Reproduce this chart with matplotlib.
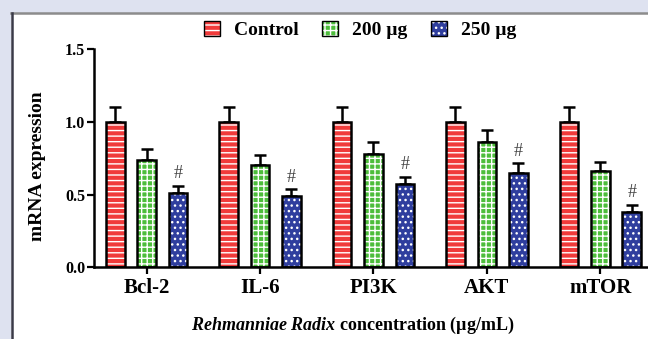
import matplotlib.pyplot as plt
import numpy as np
from matplotlib.patches import Patch, Rectangle
from matplotlib.lines import Line2D
from matplotlib.legend_handler import HandlerTuple

# data
genes = ['Bcl-2', 'IL-6', 'PI3K', 'AKT', 'mTOR']
groups = ['Control', '200 µg', '250 µg']
control_mean = [1.00, 1.00, 1.00, 1.00, 1.00]
control_err = [0.10, 0.10, 0.10, 0.10, 0.10]
dose200_mean = [0.74, 0.70, 0.78, 0.86, 0.66]
dose200_err = [0.07, 0.07, 0.08, 0.08, 0.065]
dose250_mean = [0.51, 0.49, 0.57, 0.65, 0.38]
dose250_err = [0.05, 0.045, 0.05, 0.065, 0.05]
significant = ['#', '#', '#', '#', '#']

colors = ['#f03a3a', '#4dbd3b', '#2f3e9e']
hatches = ['---', '+++', '...']

plt.rcParams['font.family'] = ['Liberation Serif', 'DejaVu Serif']
plt.rcParams['font.weight'] = 'bold'
plt.rcParams['mathtext.fontset'] = 'custom'
plt.rcParams['mathtext.it'] = 'Liberation Serif:italic:bold'
plt.rcParams['mathtext.rm'] = 'Liberation Serif:bold'
plt.rcParams['hatch.linewidth'] = 1.0

fig = plt.figure(figsize=(6.48, 3.39), dpi=100, facecolor='#dee2f0')

# white panel with grey top border and dark left border
W, H = 648.0, 339.0
fig.add_artist(Rectangle((11 / W, 0), 1, 1 - 13 / H, transform=fig.transFigure,
                         facecolor='white', edgecolor='none', zorder=0))
fig.add_artist(Line2D([11 / W, 1], [1 - 13 / H] * 2, transform=fig.transFigure,
                      color='#8c8c8c', lw=1.8))
fig.add_artist(Line2D([11.5 / W] * 2, [0, 1 - 13 / H], transform=fig.transFigure,
                      color='#3a3a48', lw=1.8))

ax = fig.add_axes([93.5 / W, 1 - 267.3 / H, (W - 93.5) / W, (267.3 - 49) / H])
ax.set_facecolor('none')

x = np.arange(len(genes))
width = 0.165
offsets = [-0.277, 0.0, 0.277]
means = [control_mean, dose200_mean, dose250_mean]
errs = [control_err, dose200_err, dose250_err]

for i in range(3):
    pos = x + offsets[i]
    # hatched fill (white pattern) then black outline on top
    ax.bar(pos, means[i], width, color=colors[i], edgecolor='white', hatch=hatches[i],
           linewidth=0, zorder=2)
    ax.bar(pos, means[i], width, fill=False, edgecolor='black', linewidth=1.8, zorder=3)
    ax.errorbar(pos, means[i], yerr=[np.zeros(len(genes)), errs[i]], fmt='none',
                ecolor='black', elinewidth=1.8, capsize=4, capthick=1.8, zorder=1)

# significance marks over the 250 µg bars
for xi, m, e, s in zip(x, dose250_mean, dose250_err, significant):
    ax.text(xi + offsets[2], m + e + 0.025, s, ha='center', va='bottom',
            fontsize=13, fontweight='normal', color='#444444')

ax.set_xlim(-0.468, 4.42)
ax.set_ylim(0, 1.5)
ax.set_yticks([0.0, 0.5, 1.0, 1.5])
ax.set_yticklabels(['0.0', '0.5', '1.0', '1.5'], fontsize=11.5, fontweight='bold')
ax.set_xticks(x)
ax.set_xticklabels(genes, fontsize=15, fontweight='bold')
ax.tick_params(axis='both', width=1.6, length=5, color='black')
ax.tick_params(axis='x', pad=3)
ax.tick_params(axis='y', pad=1)
for side in ['top', 'right']:
    ax.spines[side].set_visible(False)
for side in ['left', 'bottom']:
    ax.spines[side].set_linewidth(1.8)

fig.text(38 / W, 1 - 166 / H, 'mRNA expression', rotation=90, ha='center', va='center',
         fontsize=14, fontweight='bold')
fig.text(353 / W, 1 - 325 / H, r'$\mathit{Rehmanniae\ Radix}$ concentration (µg/mL)',
         ha='center', va='center', fontsize=13, fontweight='bold')

# legend handles: hatched patch under a black outline
handles = []
for i in range(3):
    fill = Patch(facecolor=colors[i], edgecolor='white', hatch=hatches[i], linewidth=0)
    outline = Patch(facecolor='none', edgecolor='black', linewidth=1.0)
    handles.append((fill, outline))
fig.legend(handles, groups, handler_map={tuple: HandlerTuple(ndivide=1)},
           loc='center', bbox_to_anchor=(360 / W, 1 - 30 / H), ncol=3, frameon=False,
           prop={'family': 'Liberation Serif', 'weight': 'bold', 'size': 14},
           handlelength=0.85, handleheight=0.8, handletextpad=0.7, columnspacing=1.2)

fig.savefig('out.png', dpi=100, facecolor=fig.get_facecolor())
